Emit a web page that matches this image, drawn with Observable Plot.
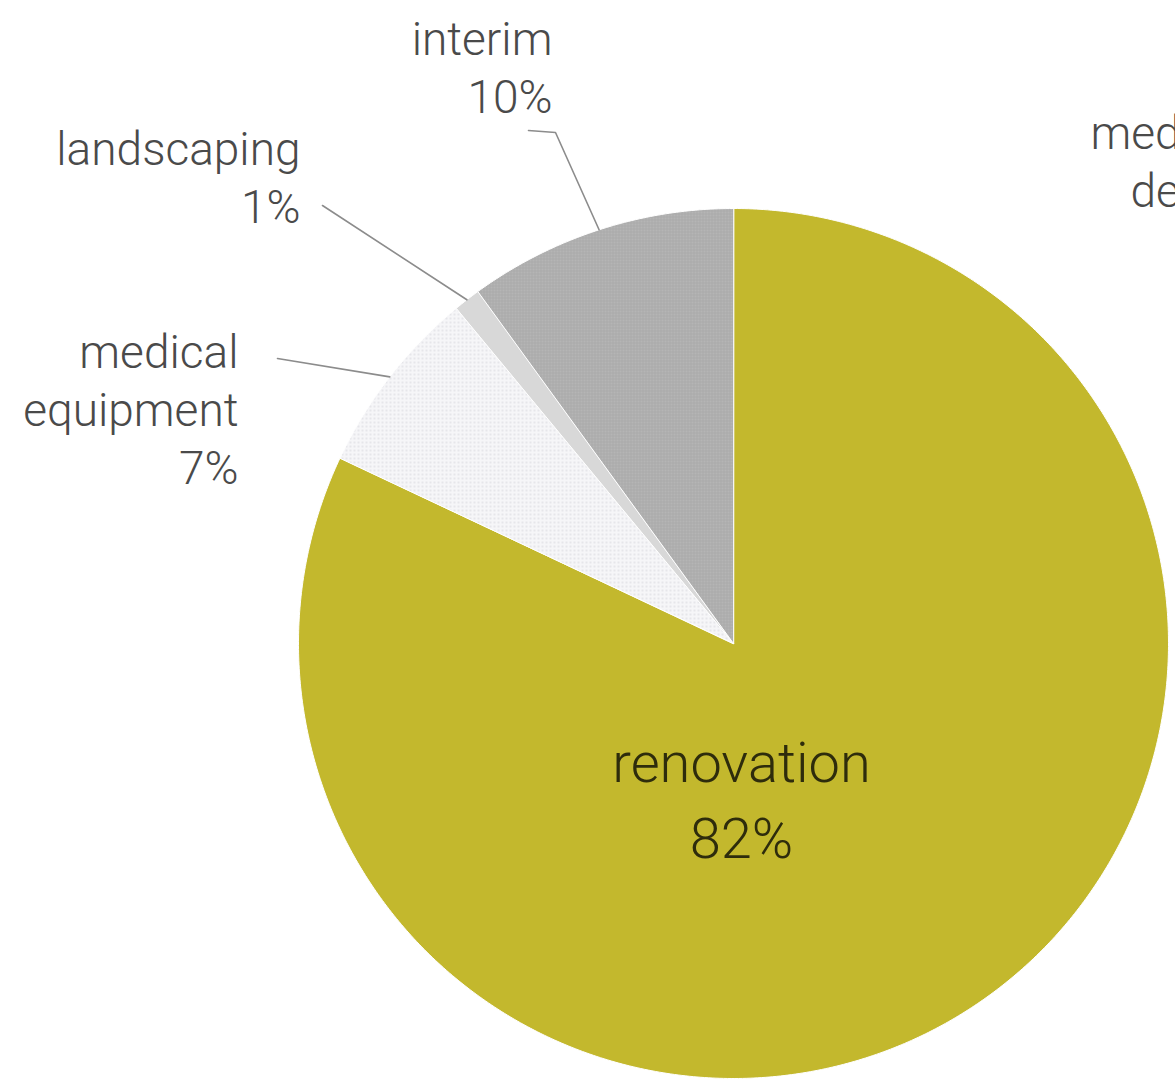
<!DOCTYPE html>
<html>
<head>
<meta charset="utf-8">
<script src="https://cdn.jsdelivr.net/npm/d3@7"></script>
<script src="https://cdn.jsdelivr.net/npm/@observablehq/plot@0.6"></script>
<style>
  html, body { margin: 0; padding: 0; background: #fff; overflow: hidden; }
</style>
</head>
<body>
<div id="chart"></div>
<script>
// ---------- data ----------
const categories = ["renovation", "medical equipment", "landscaping", "interim"];
const values = [82, 7, 1, 10];
const nameLines = [["renovation"], ["medical", "equipment"], ["landscaping"], ["interim"]];
const percentLabels = ["82%", "7%", "1%", "10%"];
const cutoffLabel = ["medical", "design"]; // label of a neighbouring chart, cut by the right edge

// ---------- layout & style ----------
const W = 1175, H = 1081;
const CX = 733, CY = 643, R = 435;
const sliceFills = ["#c3b82d", "url(#dots)", "#d8d8d8", "url(#grid)"];
const FONT = "Roboto, 'Liberation Sans', Arial, Helvetica, sans-serif";
const labelLayout = {
  "renovation":        {x: 741, y: 857, anchor: "middle", leader: null},
  "medical equipment": {x: 238, y: 483, anchor: "end", leader: [[277, 358]]},
  "landscaping":       {x: 300, y: 222, anchor: "end", leader: [[322, 205]]},
  "interim":           {x: 552, y: 112, anchor: "end", leader: [[528, 130], [555, 132]]}
};
const cutoffLayout = [{x: 1090, y: 148}, {x: 1130, y: 206}];

// ---------- geometry from the values ----------
const arcs = d3.pie().sort(null).value(d => d)(values);
const pt = (a, r) => ({x: CX + r * Math.sin(a), y: CY - r * Math.cos(a)});

const slicePoints = [];
arcs.forEach((a, i) => {
  const cat = categories[i];
  slicePoints.push({cat, ...pt(0, 0)});
  const n = Math.max(2, Math.ceil((a.endAngle - a.startAngle) / (Math.PI / 360)));
  for (let k = 0; k <= n; ++k) {
    const t = a.startAngle + (a.endAngle - a.startAngle) * k / n;
    slicePoints.push({cat, ...pt(t, R)});
  }
});

const leaderPoints = [];
const outerLabels = [];
let innerLabel = null;
arcs.forEach((a, i) => {
  const cat = categories[i];
  const L = labelLayout[cat];
  const text = nameLines[i].concat([percentLabels[i]]).join("\n");
  if (L.leader) {
    L.leader.forEach(([x, y]) => leaderPoints.push({cat, x, y}));
    const mid = (a.startAngle + a.endAngle) / 2;
    leaderPoints.push({cat, ...pt(mid, R)});
    outerLabels.push({cat, text, x: L.x, y: L.y});
  } else {
    innerLabel = {cat, text, x: L.x, y: L.y};
  }
});
const cutoffRows = cutoffLabel.map((t, i) => ({text: t, ...cutoffLayout[i]}));

// ---------- plot ----------
const chart = Plot.plot({
  width: W,
  height: H,
  margin: 0,
  x: {domain: [0, W], range: [0, W], axis: null},
  y: {domain: [0, H], range: [0, H], axis: null},
  color: {domain: categories, range: sliceFills},
  style: {background: "#fff", fontFamily: FONT, overflow: "hidden"},
  marks: [
    Plot.line(slicePoints, {x: "x", y: "y", z: "cat", fill: "cat", stroke: "#fff", strokeWidth: 1, curve: "linear-closed"}),
    Plot.line(leaderPoints, {x: "x", y: "y", z: "cat", stroke: "#8c8c8c", strokeWidth: 1.6}),
    Plot.text(outerLabels, {x: "x", y: "y", text: "text", textAnchor: "end", lineAnchor: "bottom",
      lineHeight: 1.26, fontSize: 46, fontWeight: 300, fill: "#4a4a4a", fontFamily: FONT}),
    Plot.text([innerLabel], {x: "x", y: "y", text: "text", textAnchor: "middle", lineAnchor: "bottom",
      lineHeight: 1.34, fontSize: 56, fontWeight: 300, fill: "#2e2c0c", fontFamily: FONT}),
    Plot.text(cutoffRows, {x: "x", y: "y", text: "text", textAnchor: "start", lineAnchor: "bottom",
      fontSize: 46, fontWeight: 300, fill: "#4a4a4a", fontFamily: FONT})
  ]
});

// textures for the grey slices
const defs = document.createElementNS("http://www.w3.org/2000/svg", "defs");
defs.innerHTML = `
  <pattern id="dots" width="4" height="4" patternUnits="userSpaceOnUse">
    <rect width="4" height="4" fill="#f6f6f8"></rect>
    <circle cx="2" cy="2" r="0.8" fill="#d2d2da"></circle>
  </pattern>
  <pattern id="grid" width="3" height="3" patternUnits="userSpaceOnUse">
    <rect width="3" height="3" fill="#b5b5b5"></rect>
    <rect width="3" height="1" fill="#aaaaaa"></rect>
    <rect width="1" height="3" fill="#ababab"></rect>
  </pattern>`;
chart.insertBefore(defs, chart.firstChild);

document.getElementById("chart").append(chart);
</script>
</body>
</html>
